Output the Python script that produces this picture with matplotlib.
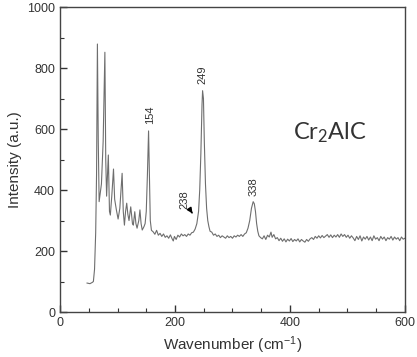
import matplotlib
matplotlib.use("Agg")
import matplotlib.pyplot as plt
from matplotlib.ticker import MultipleLocator

# Raman spectrum of Cr2AlC
wavenumber = [
    47, 52, 56, 58, 60, 62, 63.5, 65, 66.5, 68, 72, 75, 78, 79.5, 81, 84, 86, 87.5,
    90, 93, 95, 98, 101, 104, 108, 110, 112, 114, 116, 118, 120, 123, 126, 127.5,
    130, 132, 134, 137, 139, 141, 143, 146, 148, 150, 152, 154, 155.5, 157, 159,
    162, 165, 168, 171, 174, 177, 180, 183, 186, 189, 192, 195, 197, 199, 202, 205,
    208, 211, 214, 217, 220, 223, 226, 229, 232, 235, 238, 241, 243, 245, 247, 248,
    249.5, 251, 253, 255, 257, 259, 261, 264, 267, 270, 273, 276, 279, 282, 285,
    288, 291, 294, 297, 300, 303, 306, 309, 312, 315, 318, 321, 324, 327, 330, 333,
    336, 338, 340, 342, 344, 346, 349, 352, 355, 358, 361, 364, 367, 369, 372, 375,
    378, 381, 384, 387, 390, 393, 396, 399, 402, 405, 408, 411, 414, 417, 420, 423,
    426, 429, 432, 435, 438, 441, 444, 447, 450, 453, 456, 459, 462, 465, 468, 471,
    474, 477, 480, 483, 486, 489, 492, 495, 498, 501, 504, 507, 510, 513, 516, 519,
    522, 525, 528, 531, 534, 537, 540, 543, 546, 549, 552, 555, 558, 561, 564, 567,
    570, 573, 576, 579, 582, 585, 588, 591, 594, 597, 600,
]
intensity = [
    95, 93, 97, 100, 140, 260, 450, 879, 560, 362, 420, 560, 852, 500, 380, 515, 330, 318,
    380, 469, 370, 335, 305, 340, 455, 330, 285, 330, 357, 320, 300, 345, 290, 285,
    329, 290, 275, 300, 335, 290, 269, 280, 290, 330, 450, 594, 450, 300, 268,
    263, 255, 268, 252, 258, 248, 256, 245, 250, 242, 253, 240, 233, 248, 238, 252,
    246, 256, 250, 254, 248, 256, 252, 260, 262, 272, 290, 330, 400, 520, 680, 726,
    700, 560, 420, 340, 300, 280, 265, 262, 252, 256, 248, 252, 244, 250, 246,
    242, 250, 244, 248, 242, 250, 246, 252, 248, 254, 248, 256, 260, 275, 300, 340,
    362, 355, 330, 290, 265, 250, 244, 240, 250, 238, 252, 246, 262, 245, 254, 240,
    244, 234, 242, 232, 240, 230, 239, 233, 241, 231, 238, 233, 240, 230, 238, 233,
    229, 238, 232, 240, 244, 238, 248, 242, 250, 243, 251, 244, 249, 254, 245, 253,
    244, 252, 246, 254, 245, 256, 248, 254, 245, 252, 242, 250, 243, 234, 248, 238,
    250, 233, 246, 239, 248, 236, 246, 234, 250, 239, 244, 234, 248, 239, 246, 234,
    244, 239, 248, 236, 246, 239, 244, 234, 246, 239, 242,
]

# peak labels (position, label height)
peak_pos = [156, 248, 336]
peak_text = ["154", "249", "338"]
peak_label_y = [648, 777, 410]

plt.rcParams['font.family'] = ['Liberation Sans', 'DejaVu Sans']
plt.rcParams['mathtext.fontset'] = 'custom'
plt.rcParams['mathtext.rm'] = 'Liberation Sans'
plt.rcParams['mathtext.it'] = 'Liberation Sans:italic'

fig = plt.figure(figsize=(4.17, 3.57), dpi=100)
ax = fig.add_axes([0.144, 0.126, 0.827, 0.854])

ax.plot(wavenumber, intensity, color="#6e6e6e", lw=0.8)

for x, t, y in zip(peak_pos, peak_text, peak_label_y):
    ax.text(x, y, t, rotation=90, ha="center", va="center", fontsize=8, color="#333333")

# shoulder at 238
ax.annotate("", xy=(233, 316), xytext=(227, 333),
            arrowprops=dict(arrowstyle="-|>", color="black", lw=1.2, mutation_scale=7))
ax.text(217, 368, "238", rotation=90, ha="center", va="center", fontsize=8, color="#333333")

ax.text(470, 590, "Cr$_\\mathregular{2}$AlC", ha="center", va="center", fontsize=17,
        family=["Lato", "DejaVu Sans"], color="#333333")

ax.set_xlim(0, 600)
ax.set_ylim(0, 1000)
ax.xaxis.set_major_locator(MultipleLocator(200))
ax.xaxis.set_minor_locator(MultipleLocator(50))
ax.yaxis.set_major_locator(MultipleLocator(200))
ax.yaxis.set_minor_locator(MultipleLocator(100))
ax.tick_params(which="both", direction="in", colors="#333333", labelsize=9, top=False, right=False)
ax.tick_params(which="major", length=5, width=1)
ax.tick_params(which="minor", length=3, width=0.8)
for s in ax.spines.values():
    s.set_color("#444444")
    s.set_linewidth(1)

ax.set_xlabel("Wavenumber (cm$^{-1}$)", fontsize=11, color="#333333")
ax.set_ylabel("Intensity (a.u.)", fontsize=11, color="#333333")

fig.savefig("out.png", dpi=100)
